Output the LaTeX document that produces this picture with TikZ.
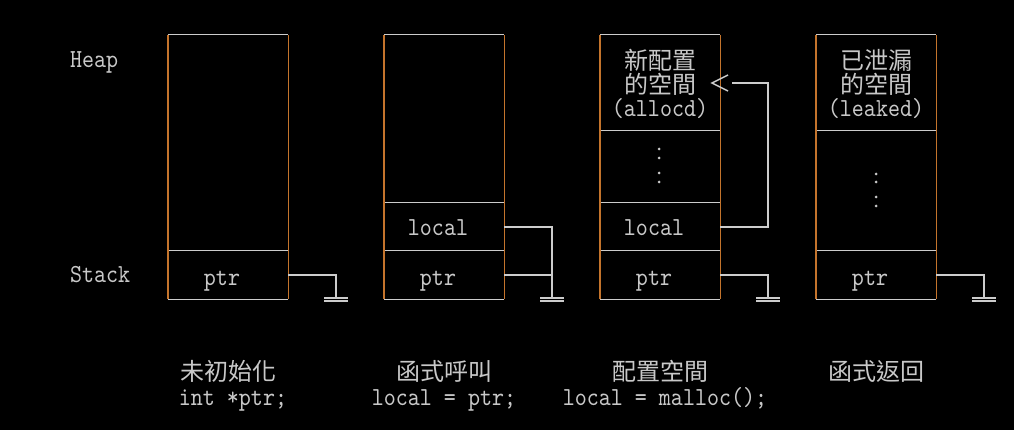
\documentclass[tikz,border=0pt]{standalone}
\usepackage{fontspec}
\newfontfamily\lat[FakeStretch=0.88]{lmmono10-regular.otf}
\newfontfamily\cjk{Noto Sans CJK TC}
\definecolor{txt}{RGB}{200,200,200}
\definecolor{hl}{RGB}{204,204,204}
\definecolor{vl}{RGB}{196,116,44}
\tikzset{
  cell/.style={inner sep=0pt,minimum width=120pt,rectangle},
  hedge/.style={draw=hl,line width=1.4pt},
  vedge/.style={draw=vl,line width=1.4pt},
  wire/.style={draw=hl,line width=1.4pt},
  lt/.style={text=txt,inner sep=0pt,font=\lat\fontsize{26}{26}\selectfont},
  ct/.style={text=txt,inner sep=0pt,font=\cjk\fontsize{24}{24}\selectfont},
  dotc/.style={fill=txt,draw=none,circle,inner sep=0pt,minimum size=3pt}
}
\begin{document}
\begin{tikzpicture}[x=1pt,y=-1pt]
\path[fill=black,use as bounding box] (0,0) rectangle (1014,430);
% labels
\node[lt,anchor=base west] (heap) at (70,68) {Heap};
\node[lt,anchor=base west] (stack) at (70,283) {Stack};
% box 1
\node[cell,minimum height=216pt] (c1h) at (228,143) {};
\node[cell,minimum height=48pt] (c1p) at (228,275) {};
% box 2
\node[cell,minimum height=168pt] (c2h) at (444,119) {};
\node[cell,minimum height=48pt] (c2l) at (444,227) {};
\node[cell,minimum height=48pt] (c2p) at (444,275) {};
% box 3
\node[cell,minimum height=96pt] (c3h) at (660,83) {};
\node[cell,minimum height=72pt] (c3d) at (660,167) {};
\node[cell,minimum height=48pt] (c3l) at (660,227) {};
\node[cell,minimum height=48pt] (c3p) at (660,275) {};
% box 4
\node[cell,minimum height=96pt] (c4h) at (876,83) {};
\node[cell,minimum height=120pt] (c4d) at (876,191) {};
\node[cell,minimum height=48pt] (c4p) at (876,275) {};
% horizontal edges
\foreach \c in {c1h,c1p,c2h,c2l,c2p,c3h,c3d,c3l,c3p,c4h,c4d,c4p}{
  \draw[hedge] (\c.north west) -- (\c.north east);
}
\foreach \c in {c1p,c2p,c3p,c4p}{
  \draw[hedge] (\c.south west) -- (\c.south east);
}
% vertical edges
\foreach \t/\b in {c1h/c1p,c2h/c2p,c3h/c3p,c4h/c4p}{
  \draw[vedge] (\t.north west) -- (\b.south west);
  \draw[vedge] (\t.north east) -- (\b.south east);
}
% cell texts
\node[lt,anchor=base] (t1p) at (222,285) {ptr};
\node[lt,anchor=base] (t2l) at (438,236) {local};
\node[lt,anchor=base] (t2p) at (438,285) {ptr};
\node[ct] (t3a) at (660,60) {新配置};
\node[ct] (t3b) at (660,84) {的空間};
\node[lt,anchor=base] (t3c) at (660,117) {(allocd)};
\node[lt,anchor=base] (t3l) at (654,236) {local};
\node[lt,anchor=base] (t3p) at (654,285) {ptr};
\node[ct] (t4a) at (876,60) {已泄漏};
\node[ct] (t4b) at (876,84) {的空間};
\node[lt,anchor=base] (t4c) at (876,117) {(leaked)};
\node[lt,anchor=base] (t4p) at (870,285) {ptr};
% dots
\foreach \y in {149,158,173,182}{\node[dotc] at (659,\y) {};}
\foreach \y in {174,182,197,206}{\node[dotc] at (876,\y) {};}
% grounds
\coordinate (g1) at (336,298);
\coordinate (g2) at (552,298);
\coordinate (g3) at (768,298);
\coordinate (g4) at (984,298);
\foreach \g in {g1,g2,g3,g4}{
  \draw[wire] ([xshift=-12pt]\g) -- ([xshift=12pt]\g);
  \draw[wire] ([xshift=-12pt,yshift=-2.8pt]\g) -- ([xshift=12pt,yshift=-2.8pt]\g);
}
\draw[wire] (c1p.east) -| (g1);
\draw[wire] (c2l.east) -| (g2);
\draw[wire] (c2p.east) -- (c2p.east -| g2);
\draw[wire] (c3p.east) -| (g3);
\draw[wire] (c4p.east) -| (g4);
% pointer from local to allocd
\coordinate (a3) at (732,83);
\coordinate (tip) at (712,83);
\draw[wire] (c3l.east) -- (c3l.east -| g3) |- (a3);
\draw[wire] ([shift={(16,-8)}]tip) -- (tip) -- ([shift={(16,8)}]tip);
% captions
\node[ct] (k1) at (228,371) {未初始化};
\node[lt,anchor=base] (m1) at (233,405) {int *ptr;};
\node[ct] (k2) at (444,371) {函式呼叫};
\node[lt,anchor=base] (m2) at (444,405) {local = ptr;};
\node[ct] (k3) at (660,371) {配置空間};
\node[lt,anchor=base] (m3) at (665,405) {local = malloc();};
\node[ct] (k4) at (876,371) {函式返回};
\end{tikzpicture}
\end{document}
